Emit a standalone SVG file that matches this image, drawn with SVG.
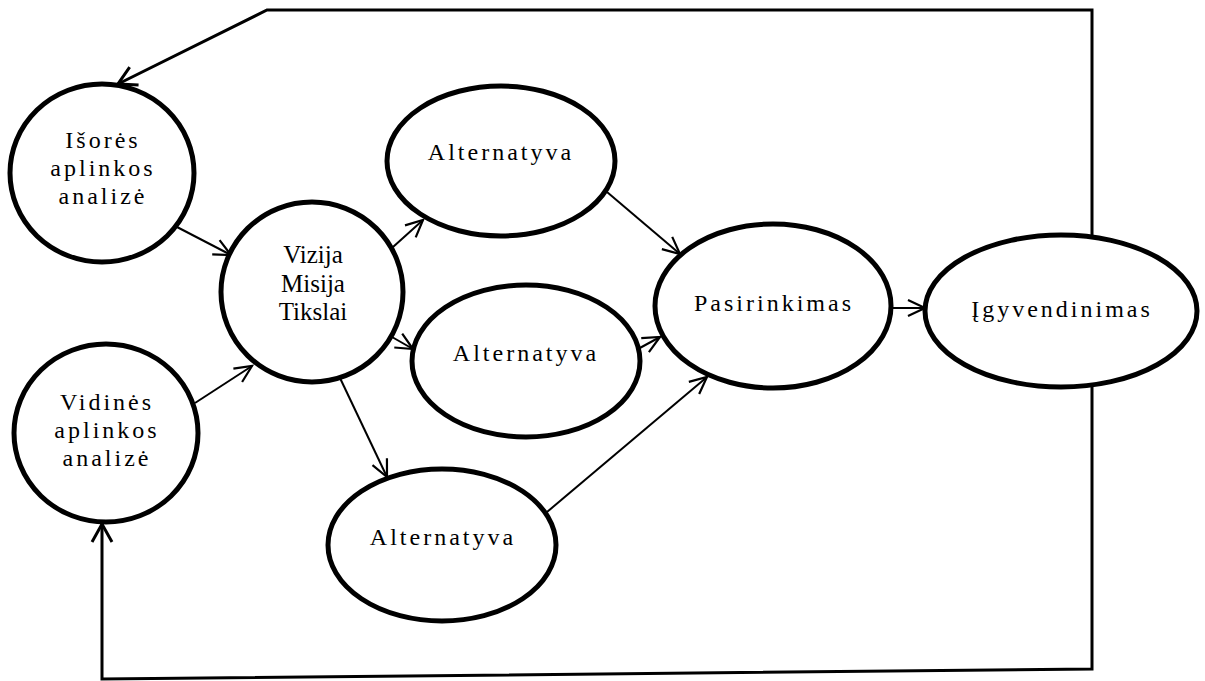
<svg xmlns="http://www.w3.org/2000/svg" width="1205" height="681" viewBox="0 0 1205 681">
  <style>
    .node { fill: #ffffff; stroke: #000000; stroke-width: 5; }
    .lbl { font-family: "Liberation Serif", "Times New Roman", serif; font-size: 24px; fill: #000000; text-anchor: middle; letter-spacing: 3px; }
    .lbl-tight { font-size: 25px; letter-spacing: 0; }
    .edge { fill: none; stroke: #000000; stroke-width: 2; }
    .loop { fill: none; stroke: #000000; stroke-width: 3; stroke-linejoin: miter; }
  </style>
  <defs>
    <marker id="arrow" markerUnits="userSpaceOnUse" viewBox="-20 -11 22 22" refX="0" refY="0" markerWidth="22" markerHeight="22" orient="auto" overflow="visible">
      <path d="M-17,-8 L0,0 L-17,8" fill="none" stroke="#000000" stroke-width="2.2"/>
    </marker>
    <marker id="arrow-loop" markerUnits="userSpaceOnUse" viewBox="-22 -12 24 24" refX="0" refY="0" markerWidth="24" markerHeight="24" orient="auto" overflow="visible">
      <path d="M-18,-10 L0,0 L-18,10" fill="none" stroke="#000000" stroke-width="3"/>
    </marker>
  </defs>

  <!-- connectors -->
  <g id="connectors">
    <!-- feedback loop from implementation back to both analyses -->
    <path class="loop" d="M1092,237 L1092,10 L267,10 L118,84" marker-end="url(#arrow-loop)"/>
    <path class="loop" d="M1092,385 L1092,669 L102,679 L102,524" marker-end="url(#arrow-loop)"/>
    <!-- analyses to vision -->
    <path class="edge" d="M177,227 L231,255" marker-end="url(#arrow)"/>
    <path class="edge" d="M195,403 L252,366" marker-end="url(#arrow)"/>
    <!-- vision to alternatives -->
    <path class="edge" d="M393,247 L423,220" marker-end="url(#arrow)"/>
    <path class="edge" d="M392,337 L413,349" marker-end="url(#arrow)"/>
    <path class="edge" d="M340,378 L387,477" marker-end="url(#arrow)"/>
    <!-- alternatives to choice -->
    <path class="edge" d="M607,192 L680,254" marker-end="url(#arrow)"/>
    <path class="edge" d="M638,349 L660,337" marker-end="url(#arrow)"/>
    <path class="edge" d="M547,512 L707,377" marker-end="url(#arrow)"/>
    <!-- choice to implementation -->
    <path class="edge" d="M892,308 L925,308" marker-end="url(#arrow)"/>
  </g>

  <g id="isores-analize">
    <ellipse class="node" cx="102" cy="173" rx="92" ry="89"/>
    <text class="lbl" x="103" y="148">Išorės</text>
    <text class="lbl" x="103" y="176">aplinkos</text>
    <text class="lbl" x="103" y="204">analizė</text>
  </g>

  <g id="vidines-analize">
    <ellipse class="node" cx="106" cy="433" rx="92" ry="89"/>
    <text class="lbl" x="107" y="410">Vidinės</text>
    <text class="lbl" x="107" y="438">aplinkos</text>
    <text class="lbl" x="107" y="466">analizė</text>
  </g>

  <g id="vizija">
    <ellipse class="node" cx="312" cy="292" rx="91" ry="90"/>
    <text class="lbl lbl-tight" x="313" y="263">Vizija</text>
    <text class="lbl lbl-tight" x="313" y="292">Misija</text>
    <text class="lbl lbl-tight" x="313" y="320">Tikslai</text>
  </g>

  <g id="alternatyva-1">
    <ellipse class="node" cx="501" cy="161" rx="114" ry="75"/>
    <text class="lbl" x="501" y="160">Alternatyva</text>
  </g>

  <g id="alternatyva-2">
    <ellipse class="node" cx="526" cy="361" rx="114" ry="76"/>
    <text class="lbl" x="526" y="361">Alternatyva</text>
  </g>

  <g id="alternatyva-3">
    <ellipse class="node" cx="442" cy="545" rx="114" ry="76"/>
    <text class="lbl" x="443" y="545">Alternatyva</text>
  </g>

  <g id="pasirinkimas">
    <ellipse class="node" cx="773" cy="306" rx="118" ry="82"/>
    <text class="lbl" x="774" y="311">Pasirinkimas</text>
  </g>

  <g id="igyvendinimas">
    <ellipse class="node" cx="1061" cy="311" rx="136" ry="76"/>
    <text class="lbl" x="1062" y="317">Įgyvendinimas</text>
  </g>
</svg>
